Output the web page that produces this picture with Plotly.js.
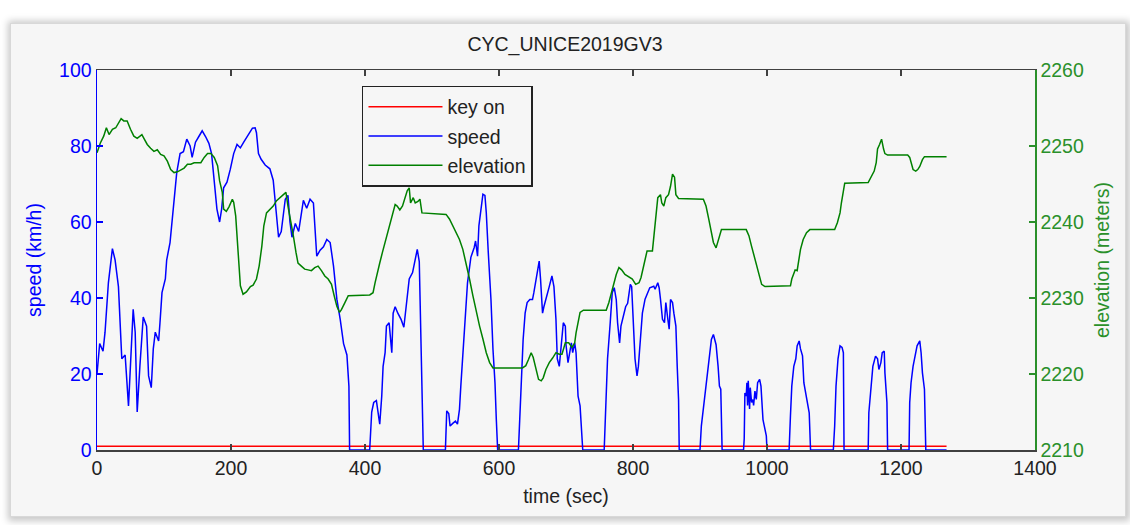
<!DOCTYPE html>
<html>
<head>
<meta charset="utf-8">
<script src="https://cdn.plot.ly/plotly-3.0.1.min.js"></script>
<style>
  html, body { margin: 0; padding: 0; background: #ffffff; width: 1130px; height: 525px; overflow: hidden; }
  #frame { position: absolute; left: 10px; top: 23px; width: 1114px; height: 492px;
           background: #f6f6f6; border: 1px solid #d8d8d8;
           box-shadow: 1px 1px 7px 3px rgba(0,0,0,0.22); }
  #chart { position: absolute; left: 0; top: 0; width: 1130px; height: 525px; }
</style>
</head>
<body>
<div id="frame"></div>
<div id="chart"></div>
<script>
// ---- data ----
const titleText = "CYC_UNICE2019GV3";
const seriesNames = ["key on", "speed", "elevation"];

const keyOnTime = [0, 1268];
const keyOnValues = [1, 1];

const speedTime = [0,4,9,12,17,23,27,32,37,42,47,51,54,57,60,64,69,74,77,81,84,87,92,94,97,102,104,109,114,119,124,129,134,139,142,147,152,157,162,167,171,174,179,183,186,189,194,199,204,209,214,219,227,232,236,238,241,245,251,258,263,267,271,275,281,285,288,291,296,301,306,308,313,318,323,328,333,338,343,348,353,358,363,368,373,376,377,407,410,413,417,419,422,425,427,430,432,436,440,442,445,449,454,458,462,466,471,475,478,481,483,486,487,520,522,525,527,531,535,538,541,543,546,550,553,558,563,565,568,570,574,576,579,581,584,588,591,594,596,598,629,631,634,636,639,642,646,650,652,655,657,660,662,665,667,670,675,679,682,685,687,690,694,696,699,700,703,705,708,710,713,715,718,721,724,725,757,759,762,766,769,772,775,777,780,782,786,789,792,796,798,801,803,806,808,811,814,818,822,825,831,833,837,839,841,844,847,849,852,854,856,859,861,864,866,868,869,900,902,905,909,913,917,920,924,927,929,931,933,965,966,967,969,970,971,972,974,975,977,979,980,982,984,986,989,991,994,996,999,1000,1033,1035,1037,1040,1043,1045,1048,1050,1053,1055,1059,1061,1063,1065,1099,1101,1103,1106,1109,1112,1114,1115,1151,1152,1155,1158,1162,1165,1167,1170,1172,1175,1176,1179,1180,1212,1213,1215,1218,1221,1224,1228,1230,1232,1235,1237,1268];
const speedValues = [20,28,26,31,44,53,50,43,24,25,11.6,25.6,37,31,10,22,35,32.6,19.5,16.4,26.6,31,28.7,33.5,41.4,45,50,54.6,64,73,78,78.5,81.8,80,77,81,82.5,84,82.5,80.7,78,72,63.4,60,63.4,69,70.5,73.9,78,80.4,79.5,81,83.5,84.7,84.8,83.5,78,76.5,75,74,71,64,56,57.5,66,67,60,56,59.6,57.5,64,65.7,63.6,66,65,51,52.6,53.5,55.4,54.6,48.4,39.7,34.4,28,25,16.8,0,0,10,12.5,13,10.5,6.8,14.2,22,25.6,32.6,33.5,25.6,36,37.7,36,34.3,32.3,39.6,45,46.7,49.7,52.8,49.6,33.5,6,0,0,10.3,9.6,6.3,7,7.6,6.8,10.7,16.8,24.7,34.4,44,50.7,53.3,55,51,59,64,67.3,67,62.5,52,39.6,26.5,17.7,8,0,0,9.8,22,29,36,38.8,39.6,39.6,41.4,45,46.5,49.7,45,36,37.7,39.5,43,45.8,43,34.4,24,22,31,33.5,32.6,27.7,23,25.6,28.2,25.6,28.2,25.6,14.2,11.6,4.5,0,0,11.6,24,33.5,41.4,42.7,39.6,33.5,28.2,32.6,35.3,37.7,38.6,43.6,43,32.6,24,19.5,22,29,36,39.7,41.4,42.7,43.1,42.3,44,42.7,39.7,34.4,33.5,38.8,34.4,31.8,39.6,38.8,36,32.6,22,13.3,0,0,6.3,10.7,16.8,24,29.1,30.4,27.7,22,16.8,16,0,0,3,15,14.2,17.7,11.7,18.2,10.8,16.4,12.5,13.3,11.7,15.5,13.3,17.7,18.6,16.8,8,6.3,3.7,0,0,9,16.8,22,24,27.4,28.7,26.6,24.8,17.7,13.3,11.6,9.8,0,0,6.3,16.8,24,27.4,27,25.6,0,0,9.8,16.8,22,24.7,24,21.2,23,25.6,26,20.3,12.5,0,0,12.5,17.7,22,24.7,27.4,28.7,25.6,20.3,16,0,0];

const elevTime = [0,5,10,14,18,23,28,33,36,40,45,50,55,60,65,67,70,75,80,85,90,95,100,105,110,115,120,125,130,135,140,145,155,160,165,170,175,180,183,187,189,193,197,202,204,207,209,212,214,218,223,229,233,238,242,246,249,253,258,263,268,273,278,282,285,289,293,297,300,305,310,315,320,325,330,335,340,345,350,354,358,362,365,370,375,407,412,415,418,422,426,430,433,437,441,445,448,452,456,460,463,466,468,472,475,479,482,485,521,526,531,536,541,546,551,556,561,566,571,576,581,586,591,635,640,644,648,651,655,659,663,666,670,675,680,685,690,694,699,704,709,713,715,718,721,726,760,764,768,771,775,779,783,788,794,799,804,809,812,816,818,821,829,832,835,837,841,843,846,849,853,856,859,862,864,868,905,909,913,917,920,924,927,930,932,969,973,977,981,984,988,992,997,1035,1037,1040,1042,1045,1047,1050,1054,1059,1064,1101,1105,1109,1111,1114,1116,1151,1156,1160,1163,1165,1168,1171,1174,1176,1180,1210,1213,1216,1218,1222,1225,1228,1232,1235,1268];
const elevValues = [2249.1,2250.4,2251.3,2252.4,2251.5,2252.2,2252.4,2253.1,2253.6,2253.3,2253.3,2252.2,2251.3,2251,2251.3,2251.5,2251,2250.2,2249.7,2249.3,2249.5,2248.9,2248.7,2248,2246.9,2246.5,2246.6,2246.9,2247.1,2247.6,2247.6,2247.8,2247.8,2248.5,2249,2249,2248.5,2247.4,2245.4,2243.9,2241.7,2241.4,2242,2243,2242.6,2240.8,2237.7,2234.2,2231.6,2230.5,2230.8,2231.5,2231.7,2232.5,2234.2,2236.8,2239.5,2241.2,2241.6,2242.1,2242.8,2243.2,2243.6,2243.9,2242.1,2240.3,2238.2,2236,2234.6,2234.2,2233.8,2233.7,2233.6,2234,2234.2,2233.6,2232.9,2232.5,2231.8,2230.3,2228.9,2228.1,2228.5,2229.4,2230.3,2230.4,2230.7,2232,2233.3,2234.6,2236,2237.3,2238.6,2239.9,2241.2,2242.3,2242.1,2241.6,2242.1,2243.2,2244.1,2244.5,2242.5,2243.2,2242.5,2242.7,2243,2241.2,2241,2240.4,2239.5,2238.6,2237.7,2236.4,2234.6,2232.5,2230.3,2228.1,2226.3,2224.6,2222.8,2221.5,2220.8,2220.8,2221.1,2221.9,2222.8,2222.2,2220.6,2219.3,2219.1,2219.5,2220.6,2221.5,2222.1,2222.8,2222.6,2222.6,2224.1,2224.1,2223.5,2224.1,2225.4,2226.7,2228.1,2228.4,2228.4,2229.4,2230.7,2232,2233.1,2234,2233.7,2233.1,2232.8,2232.5,2231.8,2232,2232.7,2234.2,2235.3,2236.2,2236.2,2238.6,2241.2,2243.2,2243.6,2242.5,2242.1,2243.2,2243.6,2244.7,2246.3,2245.9,2243.6,2243.1,2243,2242.1,2240.4,2238.6,2237.3,2236.6,2237.5,2238.6,2239,2239,2238.2,2236.8,2235.5,2234.2,2232.9,2231.8,2231.5,2231.6,2232.5,2233.3,2233.7,2233.6,2234.6,2236.4,2237.7,2238.6,2239,2239,2239.9,2241.2,2242.5,2244.1,2245.1,2245.2,2246.1,2246.7,2247.8,2249.6,2250.2,2250.9,2249.6,2249,2248.8,2248.8,2248.5,2247.6,2246.9,2246.7,2246.9,2247.3,2248.2,2248.6,2248.6];

const xTicks = [0,200,400,600,800,1000,1200,1400];
const speedTicks = [0,20,40,60,80,100];
const elevTicks = [2210,2220,2230,2240,2250,2260];

// ---- styling ----
const FONT = "Liberation Sans, Arial, sans-serif";
const FS = 19.5;
const BLUE = "#0000ff";
const GREEN = "#008000";
const GREEN_TXT = "#2a902a";
const RED = "#ff0000";
const AX = "#404040";
const TXT = "#222222";

const traces = [
  { x: keyOnTime, y: keyOnValues, name: seriesNames[0], legendgroup: "g1", type: "scatter", mode: "lines",
    line: { color: RED, width: 1.5 }, yaxis: "y" },
  { x: speedTime, y: speedValues, name: seriesNames[1], legendgroup: "g2", type: "scatter", mode: "lines",
    line: { color: BLUE, width: 1.5 }, yaxis: "y" },
  { x: elevTime, y: elevValues, name: seriesNames[2], legendgroup: "g3", type: "scatter", mode: "lines",
    line: { color: GREEN, width: 1.5 }, yaxis: "y2" }
];

const layout = {
  width: 1130, height: 525,
  margin: { l: 97, r: 95, t: 70, b: 75, pad: 0 },
  paper_bgcolor: "rgba(0,0,0,0)",
  plot_bgcolor: "rgba(0,0,0,0)",
  font: { family: FONT, size: FS, color: TXT },
  showlegend: true,
  title: { text: titleText, x: 0.5, xanchor: "center", y: 0.916, yanchor: "middle",
           font: { family: FONT, size: FS, color: TXT } },
  xaxis: {
    range: [0, 1400], tickvals: xTicks, ticktext: xTicks.map(String),
    showgrid: false, zeroline: false, showline: true, linecolor: AX, linewidth: 1.5,
    mirror: "ticks", ticks: "inside", ticklen: 6, tickcolor: AX, tickwidth: 1.5,
    tickfont: { family: FONT, size: FS, color: TXT },
    title: { text: "time (sec)", font: { family: FONT, size: FS, color: TXT }, standoff: 11 }
  },
  yaxis: {
    range: [0, 100], tickvals: speedTicks, ticktext: speedTicks.map(String),
    showgrid: false, zeroline: false, showline: true, linecolor: BLUE, linewidth: 1.5,
    ticks: "inside", ticklen: 6, tickcolor: BLUE, tickwidth: 1.5,
    tickfont: { family: FONT, size: FS, color: BLUE },
    title: { text: "speed (km/h)", font: { family: FONT, size: FS, color: BLUE }, standoff: 12 }
  },
  yaxis2: {
    range: [2210, 2260], tickvals: elevTicks, ticktext: elevTicks.map(String),
    overlaying: "y", side: "right",
    showgrid: false, zeroline: false, showline: true, linecolor: GREEN_TXT, linewidth: 1.5,
    ticks: "inside", ticklen: 6, tickcolor: GREEN_TXT, tickwidth: 1.5,
    tickfont: { family: FONT, size: FS, color: GREEN_TXT },
    title: { text: "elevation (meters)", font: { family: FONT, size: FS, color: GREEN_TXT }, standoff: 12 }
  },
  legend: {
    x: 0.2825, y: 0.958, xanchor: "left", yanchor: "top",
    bgcolor: "rgba(0,0,0,0)", bordercolor: TXT, borderwidth: 1.5,
    font: { family: FONT, size: FS, color: TXT },
    itemwidth: 74, traceorder: "grouped", tracegroupgap: 1
  }
};

Plotly.newPlot("chart", traces, layout, { displayModeBar: false, staticPlot: true });
</script>
</body>
</html>
